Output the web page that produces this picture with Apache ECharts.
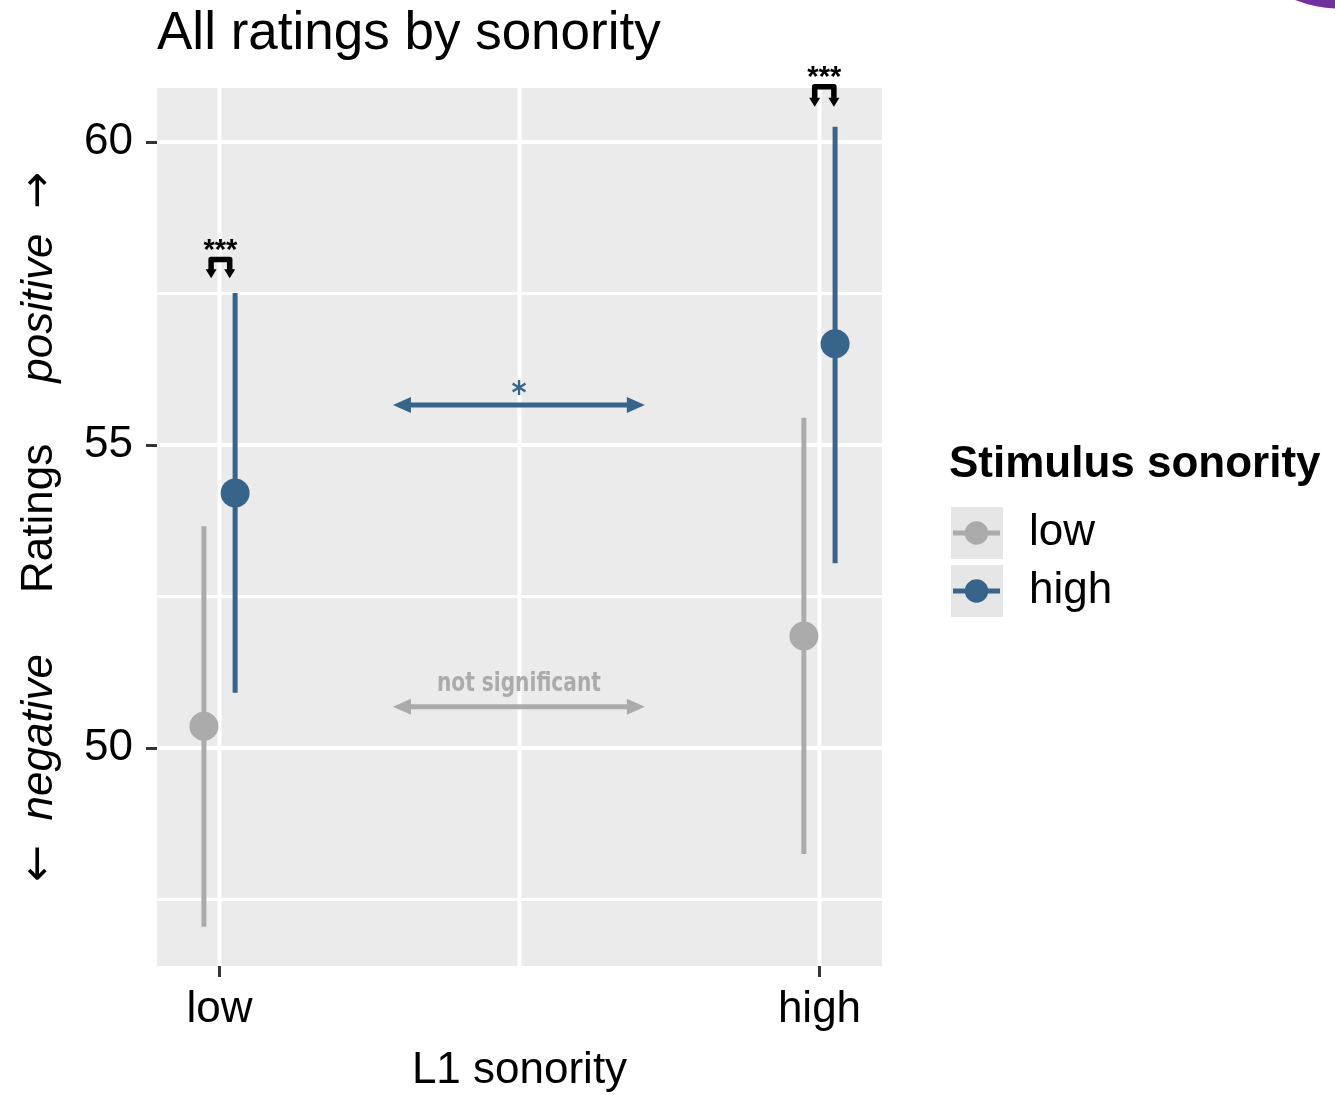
<!DOCTYPE html>
<html><head><meta charset="utf-8">
<script src="https://cdn.jsdelivr.net/npm/echarts@6/dist/echarts.min.js"></script>
<style>html,body{margin:0;padding:0;background:#fff}#c{width:1335px;height:1095px}</style>
</head><body><div id="c"></div>
<script>
// ---- data ----
const l1Categories = ['low', 'high'];          // x axis (L1 sonority)
const stimulusGroups = ['low', 'high'];        // legend (Stimulus sonority)
const meanStimLow  = [50.36, 51.85];
const lowerStimLow = [47.05, 48.25];
const upperStimLow = [53.66, 55.45];
const meanStimHigh  = [54.21, 56.67];
const lowerStimHigh = [50.91, 53.05];
const upperStimHigh = [57.51, 60.25];
const yTicks = [50, 55, 60];
const yGrid = [47.5, 50, 52.5, 55, 57.5, 60];
const xGrid = [1, 1.5, 2];
// within-L1 comparisons (brackets)
const withinLabels = ['***', '***'];
const bracketLeft  = [0.986, 1.992];
const bracketRight = [1.017, 2.024];
const bracketTip   = [57.75, 60.58];
const bracketTop   = [58.06, 60.91];
// across-L1 comparisons (double arrows), per stimulus group
const acrossLabels = ['not significant', '*'];
const acrossY = [50.68, 55.66];
const acrossFrom = [1.289, 1.289];
const acrossTo   = [1.709, 1.709];

// ---- styles ----
const FONT = '"Liberation Sans", Arial, Helvetica, sans-serif';
const NARROW = '"Liberation Sans Narrow", "Arial Narrow", "DejaVu Sans Condensed", sans-serif';
const COLORS = ['#ABABAB', '#36648B'];
const X_MIN = 0.8958, X_MAX = 2.1042, Y_MIN = 46.403, Y_MAX = 60.891;
const DODGE = 0.026;
const acrossTextOffset = [23, 10];
const acrossFont = [27, 32];
const acrossScaleX = [0.83, 1];

const chart = echarts.init(document.getElementById('c'), null, {renderer: 'canvas'});

const gridData = yGrid.map(v => [0, v]).concat(xGrid.map(v => [1, v]));

function errSeries(gi, lower, upper) {
  return {
    type: 'custom', name: 'err-' + stimulusGroups[gi], z: 3, silent: true,
    data: l1Categories.map((c, i) => [i + 1 + (gi === 0 ? -DODGE : DODGE), lower[i], upper[i]]),
    encode: {x: 0, y: [1, 2]},
    renderItem: function (params, api) {
      const a = api.coord([api.value(0), api.value(1)]);
      const b = api.coord([api.value(0), api.value(2)]);
      return {type: 'line', shape: {x1: a[0], y1: a[1], x2: b[0], y2: b[1]},
        style: {stroke: COLORS[gi], lineWidth: 5, lineCap: 'butt'}};
    }
  };
}
function pointSeries(gi, means) {
  return {
    type: 'scatter', name: stimulusGroups[gi], z: 4, silent: true,
    symbol: 'circle', symbolSize: 29,
    itemStyle: {color: COLORS[gi], opacity: 1},
    data: l1Categories.map((c, i) => [i + 1 + (gi === 0 ? -DODGE : DODGE), means[i]])
  };
}

const option = {
  animation: false,
  backgroundColor: '#ffffff',
  title: [
    {text: 'All ratings by sonority', left: 157, top: 8, padding: 0,
      textStyle: {fontSize: 53, fontWeight: 'normal', color: '#000', fontFamily: FONT}},
    {text: 'Stimulus sonority', left: 949, top: 443, padding: 0,
      textStyle: {fontSize: 44, fontWeight: 'bold', color: '#000', fontFamily: FONT}}
  ],
  legend: {
    data: stimulusGroups, orient: 'vertical', left: 953, top: 511, padding: 0,
    itemWidth: 47, itemHeight: 44, itemGap: 14, selectedMode: false,
    icon: 'path://M0,9.5H48V14.5H0Z M36,12A12,12 0 1,1 12,12A12,12 0 1,1 36,12Z',
    textStyle: {fontSize: 44, color: '#000', fontFamily: FONT, padding: [0, 0, 0, 24]}
  },
  graphic: [
    {type: 'rect', left: 951, top: 507, z: 0, shape: {width: 52, height: 52}, style: {fill: '#E6E6E6'}},
    {type: 'rect', left: 951, top: 565, z: 0, shape: {width: 52, height: 52}, style: {fill: '#E6E6E6'}},
    {type: 'circle', z: 0, shape: {cx: 1340, cy: -114.5, r: 123}, style: {fill: '#7030A0'}}
  ],
  grid: {left: 157, top: 88, width: 725, height: 878, show: true,
    backgroundColor: '#EBEBEB', borderWidth: 0, containLabel: false, outerBoundsMode: 'none'},
  xAxis: {
    type: 'value', min: X_MIN, max: X_MAX,
    axisLine: {show: false},
    splitLine: {show: false},
    axisTick: {show: true, length: 11, lineStyle: {color: '#333333', width: 3}, customValues: [1, 2]},
    axisLabel: {customValues: [1, 2], fontSize: 44, color: '#000', fontFamily: FONT, margin: 22,
      formatter: v => l1Categories[Math.round(v) - 1]},
    name: 'L1 sonority', nameLocation: 'middle', nameGap: 83,
    nameTextStyle: {fontSize: 44, color: '#000', fontFamily: FONT}
  },
  yAxis: {
    type: 'value', min: Y_MIN, max: Y_MAX,
    axisLine: {show: false},
    splitLine: {show: false},
    axisTick: {show: true, length: 11, lineStyle: {color: '#333333', width: 3}, customValues: yTicks},
    axisLabel: {customValues: yTicks, fontSize: 44, color: '#000', fontFamily: FONT, margin: 24},
    name: '{a|←}  {i|negative}     Ratings     {i|positive}  {a|→}',
    nameLocation: 'middle', nameGap: 95, nameRotate: 90,
    nameTextStyle: {fontSize: 44, color: '#000', fontFamily: FONT,
      rich: {
        i: {fontSize: 44, fontStyle: 'italic', color: '#000', fontFamily: FONT},
        a: {fontSize: 44, color: '#000', fontFamily: '"DejaVu Sans", sans-serif'}
      }}
  },
  series: [
    {
      type: 'custom', name: 'grid', z: 1, silent: true, clip: false,
      data: gridData, encode: {x: 1, y: 1},
      renderItem: function (params, api) {
        const cs = params.coordSys;
        const dir = api.value(0), v = api.value(1);
        if (dir === 0) {
          const p = api.coord([X_MIN, v]);
          return {type: 'line', shape: {x1: cs.x, y1: p[1], x2: cs.x + cs.width, y2: p[1]},
            style: {stroke: '#ffffff', lineWidth: yTicks.indexOf(v) >= 0 ? 4 : 3}};
        }
        const p = api.coord([v, Y_MIN]);
        return {type: 'line', shape: {x1: p[0], y1: cs.y, x2: p[0], y2: cs.y + cs.height},
          style: {stroke: '#ffffff', lineWidth: 4}};
      }
    },
    errSeries(0, lowerStimLow, upperStimLow),
    errSeries(1, lowerStimHigh, upperStimHigh),
    pointSeries(0, meanStimLow),
    pointSeries(1, meanStimHigh),
    {
      type: 'custom', name: 'brackets', z: 5, silent: true, clip: false,
      data: l1Categories.map((c, i) => [bracketLeft[i], bracketTop[i]]),
      encode: {x: 0, y: 1},
      renderItem: function (params, api) {
        const i = params.dataIndex;
        const tl = api.coord([bracketLeft[i], bracketTop[i]]);
        const tr = api.coord([bracketRight[i], bracketTop[i]]);
        const bl = api.coord([bracketLeft[i], bracketTip[i]]);
        const br = api.coord([bracketRight[i], bracketTip[i]]);
        const hl = 9, hw = 5.5;
        return {type: 'group', children: [
          {type: 'polyline', shape: {points: [[bl[0], bl[1] - hl + 1], [tl[0], tl[1]], [tr[0], tr[1]], [br[0], br[1] - hl + 1]]},
            style: {stroke: '#000', lineWidth: 5.5, fill: null, lineJoin: 'round'}},
          {type: 'polygon', shape: {points: [[bl[0] - hw, bl[1] - hl], [bl[0] + hw, bl[1] - hl], [bl[0], bl[1]]]}, style: {fill: '#000'}},
          {type: 'polygon', shape: {points: [[br[0] - hw, br[1] - hl], [br[0] + hw, br[1] - hl], [br[0], br[1]]]}, style: {fill: '#000'}},
          {type: 'text', style: {text: withinLabels[i], x: (tl[0] + tr[0]) / 2, y: tl[1] - 9,
            align: 'center', verticalAlign: 'middle', font: 'bold 29px ' + FONT, fill: '#000'}}
        ]};
      }
    },
    {
      type: 'custom', name: 'across', z: 5, silent: true, clip: false,
      data: stimulusGroups.map((g, i) => [acrossFrom[i], acrossY[i]]),
      encode: {x: 0, y: 1},
      renderItem: function (params, api) {
        const i = params.dataIndex;
        const a = api.coord([acrossFrom[i], acrossY[i]]);
        const b = api.coord([acrossTo[i], acrossY[i]]);
        const hl = 18, hw = 8, col = COLORS[i];
        return {type: 'group', children: [
          {type: 'line', shape: {x1: a[0] + hl - 2, y1: a[1], x2: b[0] - hl + 2, y2: b[1]},
            style: {stroke: col, lineWidth: 5}},
          {type: 'polygon', shape: {points: [[a[0], a[1]], [a[0] + hl, a[1] - hw], [a[0] + hl, a[1] + hw]]}, style: {fill: col}},
          {type: 'polygon', shape: {points: [[b[0], b[1]], [b[0] - hl, b[1] - hw], [b[0] - hl, b[1] + hw]]}, style: {fill: col}},
          {type: 'text', x: (a[0] + b[0]) / 2, y: a[1] - acrossTextOffset[i], scaleX: acrossScaleX[i],
            style: {text: acrossLabels[i], x: 0, y: 0,
            align: 'center', verticalAlign: 'middle', font: 'bold ' + acrossFont[i] + 'px ' + NARROW, fill: col}}
        ]};
      }
    }
  ]
};
chart.setOption(option);
</script>
</body></html>
